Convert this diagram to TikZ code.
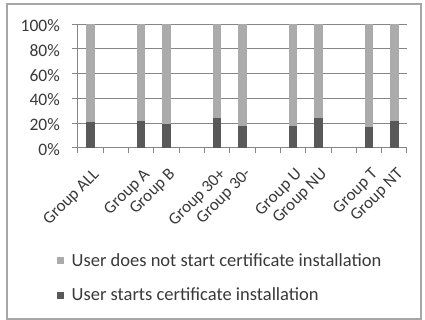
\documentclass[tikz,border=0pt]{standalone}
\usepackage{fontspec}
\setmainfont{Carlito}
\definecolor{barlight}{HTML}{ABABAB}
\definecolor{bardark}{HTML}{595959}
\definecolor{gridc}{HTML}{868686}
\definecolor{txt}{HTML}{3A3A3A}
\definecolor{framec}{HTML}{A6A6A6}
\tikzset{
  gridline/.style={gridc, line width=1pt},
  axisline/.style={gridc, line width=1pt},
  ticklabel/.style={txt, inner sep=0pt, font=\fontsize{17.5}{20}\selectfont},
  catlabel/.style={txt, inner sep=0pt, rotate=45, anchor=north east, font=\fontsize{17}{20}\selectfont},
  legendtext/.style={txt, inner sep=0pt, anchor=base west, font=\fontsize{18.5}{22}\selectfont},
  lightbar/.style={fill=barlight},
  darkbar/.style={fill=bardark},
}
\begin{document}
\begin{tikzpicture}[x=1pt,y=-1pt]
\useasboundingbox (0,0) rectangle (425,320);
\fill[white] (0,0) rectangle (425,320);
\draw[framec, line width=1.3pt] (7,4) rectangle (421,319);

% vertical scale: 0% at 147.7, 1.234 per percent
\def\yzero{147.7}
\def\yunit{1.234}
\def\xzero{77.7}
\def\cw{25.33}

% horizontal gridlines and y tick labels
\foreach \p in {0,20,...,100}{
  \draw[gridline] (72,{\yzero-\yunit*\p}) -- (407,{\yzero-\yunit*\p});
  \node[ticklabel, anchor=east] (ylab\p) at (60,{\yzero-\yunit*\p+1.5}) {\p\%};
}
% axes
\draw[axisline] (\xzero,{\yzero-\yunit*100}) -- (\xzero,\yzero);
\foreach \k in {0,...,13}{
  \draw[axisline] ({\xzero+\cw*\k},\yzero) -- ({\xzero+\cw*\k},153.5);
}

% stacked bars: category index / share of users who start installation
\foreach \i/\v in {1/20.5,3/22,4/19.5,6/24,7/17.5,9/17.5,10/24,12/16.5,13/22}{
  \pgfmathsetmacro\c{\xzero+\cw*(\i-0.5)}
  \fill[darkbar] ({\c-4.2},\yzero) rectangle ({\c+4.2},{\yzero-\yunit*\v});
  \fill[lightbar] ({\c-4.2},{\yzero-\yunit*\v}) rectangle ({\c+4.2},{\yzero-\yunit*100});
}

% category labels
\foreach \i/\name in {1/ALL,3/A,4/B,6/30+,7/30-,9/U,10/NU,12/T,13/NT}{
  \pgfmathsetmacro\c{\xzero+\cw*(\i-0.5)}
  \node[catlabel] (cat\i) at ({\c+1.5},167) {Group \name};
}

% legend
\fill[lightbar] (57.3,257) rectangle (63.5,263.5);
\node[legendtext] (legnot) at (71.5,266.7) {User does not start certificate installation};
\fill[darkbar] (57.3,292) rectangle (63.5,298.5);
\node[legendtext] (legstart) at (71.5,300.7) {User starts certificate installation};
\end{tikzpicture}
\end{document}
